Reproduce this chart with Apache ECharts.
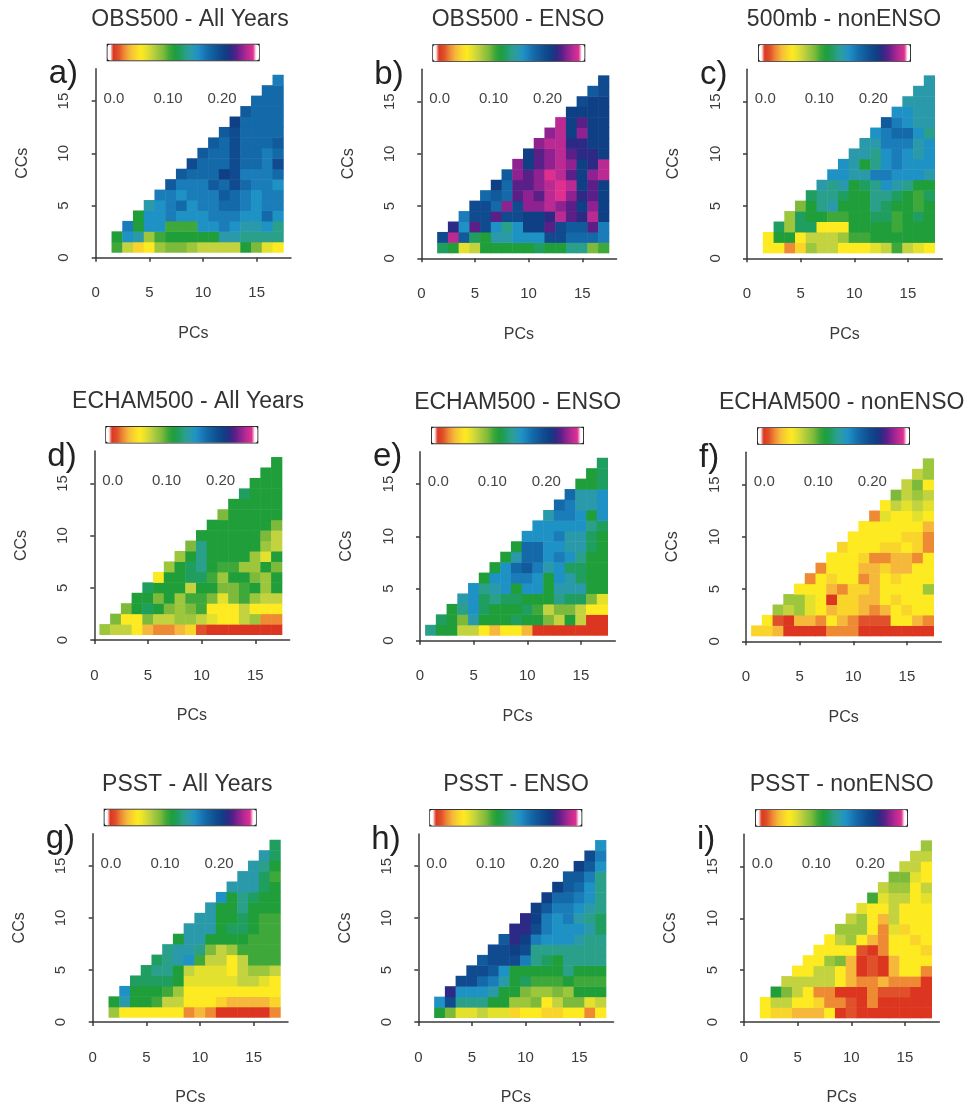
<!DOCTYPE html>
<html><head><meta charset="utf-8">
<style>html,body{margin:0;padding:0;background:#fff}#c{width:972px;height:1107px}</style>
<script src="https://cdn.jsdelivr.net/npm/echarts@6/dist/echarts.min.js"></script>
</head><body><div id="c"></div>
<script>
// Values are in hundredths; each row is one CC count (1 upward), listed from its first PC to PC 17.
const obsAll=[
[10,7,4,5,8,9,9,8,7,7,7,7,11,9,6,5],
[11,15,14,8,10,11,11,11,11,11,14,14,13,13,13,13],
[16,11,15,15,10,10,10,15,15,16,15,14,14,15,13],
[11,15,15,16,15,15,15,16,16,16,15,15,17,15],
[14,15,16,17,15,16,16,17,17,16,15,16,16],
[16,16,15,16,16,16,18,17,16,15,16,16],
[18,16,16,16,18,17,19,17,16,16,15],
[18,17,17,17,20,19,16,16,16,17],
[19,17,17,17,19,17,17,16,19],
[18,17,17,19,17,17,16,17],
[18,17,19,17,17,17,18],
[18,19,17,17,17,17],
[20,17,17,17,17],
[18,17,17,17],
[17,17,17],
[17,17],
[16]];
const obsEnso=[
[12,11,6,7,11,11,11,11,11,12,11,11,13,13,9,10],
[19,24,18,12,11,14,14,15,15,15,19,19,17,17,17,16],
[21,15,22,19,15,13,15,20,20,22,19,18,18,22,16],
[16,19,19,22,19,19,20,20,21,24,22,21,24,20],
[19,19,17,23,19,23,23,24,23,22,20,23,20],
[17,18,17,22,23,22,24,25,23,21,22,20],
[20,17,22,22,23,24,25,24,20,22,20],
[18,23,22,23,25,24,22,20,23,24],
[23,20,22,23,24,23,20,21,24],
[20,22,23,24,22,21,21,20],
[23,24,24,21,21,20,20],
[23,24,20,23,20,20],
[24,20,22,20,20],
[20,20,20,20],
[19,20,20],
[18,19],
[19]];
const obsNon=[
[5,5,2,4,8,7,7,5,5,5,6,7,10,7,6,5],
[5,11,11,5,7,7,7,8,10,10,11,11,11,11,11,11],
[12,8,12,12,5,5,5,11,11,11,11,10,11,11,11],
[8,12,11,11,10,10,11,11,12,12,10,11,12,11],
[9,11,13,14,11,11,11,13,12,11,11,10,11],
[12,13,13,12,11,11,13,13,12,11,10,12],
[14,13,14,11,12,13,15,14,13,11,11],
[15,15,14,14,16,16,15,15,15,14],
[15,14,11,13,15,16,15,15,15],
[14,14,13,15,16,15,14,15],
[14,14,16,16,16,14,15],
[15,16,17,17,15,13],
[18,16,15,14,14],
[15,15,14,14],
[14,14,14],
[14,14],
[14]];
const echamAll=[
[8,7,7,5,3,2,2,3,4,1,0,0,0,0,0,0,0],
[9,5,5,9,7,7,8,8,7,6,5,5,7,8,2,2],
[9,11,12,11,9,8,9,10,5,5,5,7,5,5,5],
[11,11,9,11,8,10,10,9,6,9,10,8,7,7],
[12,11,11,11,7,11,11,9,9,10,11,8,11],
[5,11,11,12,12,10,8,11,11,9,8,11],
[8,11,12,13,11,10,10,8,8,11,9],
[8,11,13,11,11,11,11,8,6,11],
[9,13,11,11,11,11,11,8,7],
[11,11,11,11,11,11,9,7],
[11,11,11,11,11,11,9],
[9,11,11,11,11,11],
[11,11,11,11,11],
[12,11,11,11],
[11,11,11],
[11,11],
[11]];
const echamEnso=[
[13,11,11,7,7,5,3,5,5,3,0,0,0,0,0,0,0],
[12,11,9,14,11,11,11,12,11,11,9,7,11,7,0,0],
[11,13,15,12,11,11,11,12,10,7,9,9,7,5,5],
[14,15,12,13,12,12,11,11,11,13,12,12,9,6],
[15,13,14,15,11,15,15,11,14,14,14,11,11],
[11,15,15,16,16,15,11,15,14,12,11,11],
[11,15,17,18,16,14,15,12,12,11,11],
[11,14,17,17,15,16,15,13,11,11],
[11,17,17,15,15,14,14,12,11],
[15,15,15,16,14,14,12,11],
[15,15,15,15,15,13,12],
[14,16,16,15,11,15],
[17,16,14,14,15],
[17,14,14,15],
[11,11,12],
[11,12],
[12]];
const echamNon=[
[4,4,3,0,0,0,0,2,2,2,0,0,0,0,0,0,0],
[5,1,0,3,3,2,5,3,2,1,1,1,5,5,3,2],
[8,7,8,6,5,3,4,4,3,2,3,5,4,5,5],
[8,8,6,5,0,4,4,3,3,5,4,5,5,5],
[5,5,5,3,2,4,4,3,5,5,5,5,8],
[2,5,4,5,5,2,3,5,4,5,5,5],
[2,5,5,5,3,3,4,3,3,5,5],
[5,5,5,4,2,2,3,3,2,5],
[4,5,5,5,4,4,5,4,2],
[5,5,5,5,5,4,4,2],
[5,5,5,5,5,5,3],
[2,6,5,5,6,5],
[5,7,6,7,6],
[9,7,8,7],
[7,9,5],
[7,8],
[8]];
const psstAll=[
[8,5,5,5,5,5,5,2,3,2,0,0,0,0,0,2],
[11,14,11,11,10,7,7,5,5,5,4,3,3,3,3,4],
[15,11,11,11,10,8,5,5,5,5,5,5,5,5,5],
[12,12,12,12,11,6,6,6,6,6,7,7,6,5],
[12,13,13,11,7,6,6,6,5,7,8,8,7],
[12,13,14,15,10,7,7,5,7,10,10,10],
[13,14,14,13,9,7,8,10,10,10,10],
[11,14,14,11,11,11,11,10,10,10],
[14,14,14,11,12,12,11,10,10],
[14,14,11,11,12,11,10,10],
[14,11,11,13,11,11,11],
[15,11,13,12,11,11],
[14,14,14,12,11],
[14,14,12,10],
[14,13,11],
[14,12],
[12]];
const psstEnso=[
[11,9,6,6,7,6,6,4,5,5,4,4,5,5,2,5],
[15,19,13,13,13,11,11,8,8,9,5,7,9,9,6,7],
[21,15,15,15,14,11,11,9,8,8,9,8,11,11,11],
[19,19,17,16,14,11,12,10,10,10,11,10,10,10],
[19,19,18,15,11,11,11,11,11,13,11,11,11],
[18,19,19,19,16,13,12,11,13,13,13,13],
[19,19,20,19,13,13,13,13,13,13,13],
[18,21,20,16,15,15,15,14,13,13],
[21,21,19,16,15,15,15,14,12],
[21,20,16,15,16,14,13,12],
[20,18,16,16,15,14,13],
[20,17,17,16,15,13],
[20,18,17,15,13],
[18,18,16,13],
[20,18,15],
[19,16],
[15]];
const psstNon=[
[5,4,4,3,3,3,5,0,1,0,0,0,0,0,0,0],
[5,7,7,5,5,4,2,2,1,0,2,0,0,0,0,0],
[11,9,7,5,2,2,0,0,0,2,1,1,1,0,0],
[7,7,7,7,7,5,3,2,2,3,2,2,2,0],
[5,5,7,7,5,3,0,1,0,3,5,5,2],
[5,5,8,9,3,0,1,0,3,5,5,5],
[5,5,5,5,1,0,2,5,5,5,4],
[5,7,8,5,3,2,5,5,4,5],
[8,8,8,5,2,6,4,5,5],
[7,8,5,3,7,5,5,5],
[6,5,5,7,5,5,5],
[10,6,7,7,5,6],
[7,8,8,5,7],
[9,9,6,5],
[7,7,5],
[7,7],
[8]];

const palette=['#ffffff','#dc3520','#e0502a','#ee8a34','#f5b83a','#f9d52c','#fdea20','#e3e02e','#c3d23f','#9cc63c','#7db93a','#3fa83a','#1f9e3a','#1f9e60','#2a9f8a','#2a9aaa','#1f92c5','#1a7dba','#1469a8','#115a9b','#104a8f','#0f3f85','#2c2a85','#5a2088','#8f2290','#bb2a93','#e0308f','#ffffff'];
const ticks=[0,5,10,15];
const cats=['1','2','3','4','5','6','7','8','9','10','11','12','13','14','15','16','17'];
const barTicks=['0.0','0.10','0.20'];
const barTickX=[18.3,72.3,126.3];

const panels=[
 {t:'OBS500 - All Years',l:'a)',x:95.7,y:257.7,d:obsAll,s:2,tx:190},
 {t:'OBS500 - ENSO',l:'b)',x:421.3,y:258.3,d:obsEnso,s:2,tx:518},
 {t:'500mb - nonENSO',l:'c)',x:747,y:258.3,d:obsNon,s:2,tx:844},
 {t:'ECHAM500 - All Years',l:'d)',x:94.3,y:640,d:echamAll,s:1,tx:188},
 {t:'ECHAM500 - ENSO',l:'e)',x:420,y:640.7,d:echamEnso,s:1,tx:517.7},
 {t:'ECHAM500 - nonENSO',l:'f)',x:746,y:641.3,d:echamNon,s:1,tx:841.7},
 {t:'PSST - All Years',l:'g)',x:92.7,y:1022.7,d:psstAll,s:2,tx:187.3},
 {t:'PSST - ENSO',l:'h)',x:418.3,y:1023,d:psstEnso,s:2,tx:516},
 {t:'PSST - nonENSO',l:'i)',x:744,y:1023.3,d:psstNon,s:2,tx:841.7}
];
const sx=10.73, sy=10.44, ink='#3a3a3a', font='"Liberation Sans",Arial,sans-serif';
const colors=[];
palette.forEach((c,i)=>{
  colors.push(c);
  if(i<palette.length-1){
    const a=(i===0)?c:(i===palette.length-2?palette[i+1]:echarts.color.lerp(0.5,[c,palette[i+1]]));
    colors.push(a);
  }
});
const opt={animation:false,backgroundColor:'#fff',textStyle:{fontFamily:font},title:[],grid:[],xAxis:[],yAxis:[],series:[],visualMap:[],graphic:[]};
panels.forEach((p,i)=>{
  opt.title.push({text:p.t,left:p.tx,top:p.y-250,textAlign:'center',padding:0,textStyle:{fontSize:23,fontWeight:'normal',color:'#333',fontFamily:font}});
  // heat cells
  opt.grid.push({left:p.x+0.5*sx,top:p.y-17.5*sy,width:17*sx,height:17*sy,containLabel:false});
  opt.xAxis.push({type:'category',gridIndex:2*i,data:cats,show:false});
  opt.yAxis.push({type:'category',gridIndex:2*i,data:cats,show:false});
  const cells=[];
  p.d.forEach((row,r)=>{
    const first=r===0?p.s:r+1;
    row.forEach((v,k)=>cells.push([first+k-1,r,v]));
  });
  opt.series.push({type:'heatmap',name:p.t,xAxisIndex:2*i,yAxisIndex:2*i,data:cells,emphasis:{disabled:true},progressive:0,itemStyle:{borderWidth:0}});
  // axes
  opt.grid.push({left:p.x,top:p.y-18.1*sy,width:18.2*sx,height:18.1*sy});
  opt.xAxis.push({type:'value',gridIndex:2*i+1,min:0,max:18.2,name:'PCs',nameLocation:'middle',nameGap:68,
    nameTextStyle:{fontSize:16,color:ink,fontFamily:font},splitLine:{show:false},
    axisLine:{show:true,onZero:false,lineStyle:{color:ink,width:1.5}},
    axisTick:{show:true,length:4,customValues:ticks,lineStyle:{color:ink,width:1.5}},
    axisLabel:{customValues:ticks,margin:28,fontSize:15,color:ink,fontFamily:font}});
  opt.yAxis.push({type:'value',gridIndex:2*i+1,min:0,max:18.1,name:'CCs',nameLocation:'middle',nameGap:65,
    nameTextStyle:{fontSize:16,color:ink,fontFamily:font},splitLine:{show:false},
    axisLine:{show:true,onZero:false,lineStyle:{color:ink,width:1.5}},
    axisTick:{show:true,length:4,customValues:ticks,lineStyle:{color:ink,width:1.5}},
    axisLabel:{customValues:ticks,margin:24,rotate:90,fontSize:15,color:ink,fontFamily:font}});
  opt.visualMap.push({type:'continuous',seriesIndex:i,dimension:2,min:-1,max:26,orient:'horizontal',
    left:p.x+11,top:p.y-214,itemWidth:16,itemHeight:151.5,padding:0,calculable:false,hoverLink:false,showLabel:false,text:['',''],
    borderColor:'#222',borderWidth:1.5,inRange:{color:colors},textStyle:{fontSize:1,color:'transparent'}});
  barTicks.forEach((b,k)=>opt.graphic.push({type:'text',x:p.x+barTickX[k],y:p.y-159,silent:true,
    style:{text:b,align:'center',verticalAlign:'middle',fontSize:15,fill:'#444',fontFamily:font}}));
  opt.graphic.push({type:'text',x:p.x-47,y:p.y-183.5,silent:true,style:{text:p.l,align:'left',verticalAlign:'middle',fontSize:33,fill:'#222',fontFamily:font}});
});
echarts.init(document.getElementById('c'),null,{renderer:'canvas'}).setOption(opt);
</script></body></html>
